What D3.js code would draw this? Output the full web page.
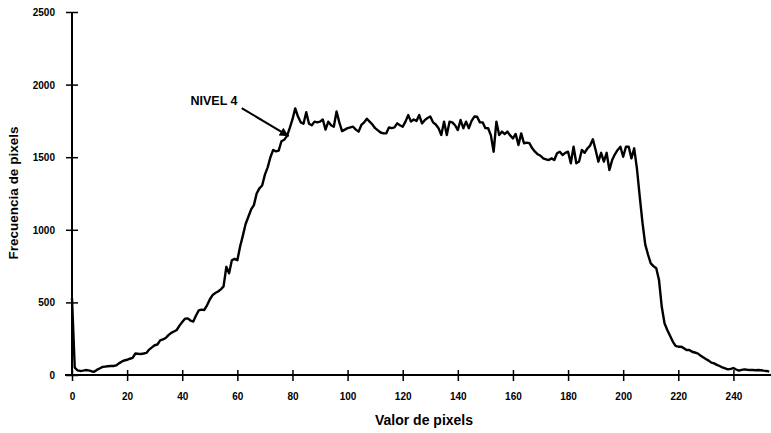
<!DOCTYPE html>
<html><head><meta charset="utf-8">
<script src="https://cdn.jsdelivr.net/npm/d3@7"></script>
<style>
html,body{margin:0;padding:0;background:#fff;}
svg{display:block;}
text{font-family:Arial,"Liberation Sans",sans-serif;font-weight:bold;fill:#000;}
</style></head><body>
<svg id="c" width="771" height="433"></svg>
<script>
// Pixel values 0..253 (x) and their frequencies (y)
const pixelValues = d3.range(0, 254);
const frequencies = [
 530,50,32,28,30,34,32,26,22,35,
 45,55,58,60,62,62,66,80,92,100,
 105,112,118,148,146,145,148,152,175,190,
 205,210,238,245,255,275,290,300,310,340,
 365,388,390,375,368,410,445,450,448,480,
 520,550,565,575,590,610,745,700,790,800,
 790,885,960,1040,1090,1140,1170,1250,1285,1305,
 1380,1430,1500,1550,1540,1545,1610,1620,1645,1700,
 1760,1836,1780,1740,1730,1810,1730,1720,1745,1740,
 1745,1760,1690,1745,1720,1710,1815,1740,1680,1690,
 1700,1705,1710,1690,1676,1722,1740,1765,1745,1725,
 1700,1685,1670,1664,1664,1705,1700,1705,1733,1720,
 1710,1745,1790,1745,1760,1750,1790,1733,1755,1770,
 1780,1740,1725,1700,1653,1745,1653,1745,1740,1720,
 1687,1756,1700,1745,1700,1750,1780,1779,1740,1740,
 1700,1699,1650,1538,1745,1653,1676,1660,1676,1650,
 1629,1660,1584,1664,1596,1600,1596,1561,1538,1520,
 1510,1492,1485,1481,1492,1481,1527,1538,1515,1530,
 1538,1458,1572,1458,1470,1550,1530,1560,1580,1623,
 1550,1469,1530,1470,1530,1412,1480,1520,1550,1572,
 1503,1572,1572,1492,1561,1420,1230,1050,900,830,
 769,750,735,654,470,356,310,270,230,200,
 195,195,185,172,172,160,155,149,135,122,
 110,99,85,80,70,62,52,46,39,42,
 48,38,30,35,39,36,34,34,33,34,
 33,30,28,23
];
const xTicks = [0,20,40,60,80,100,120,140,160,180,200,220,240];
const yTicks = [0,500,1000,1500,2000,2500];
const xTitle = "Valor de pixels";
const yTitle = "Frecuencia de pixels";
const annotationLabel = "NIVEL 4";
const annotationTarget = [79, 1645];
const annotationTextAt = [43, 1860];

const svg = d3.select("#c");
const x = d3.scaleLinear().domain([0, 254]).range([72, 772]);
const y = d3.scaleLinear().domain([0, 2500]).range([375, 12]);

// Y axis
const gy = svg.append("g").attr("transform", `translate(${x(0)},0)`)
  .call(d3.axisLeft(y).tickValues(yTicks).tickSize(6).tickFormat(d3.format("d")));
gy.select(".domain").attr("stroke", "#000").attr("stroke-width", 2).attr("d", `M0,${y(2500)}V${y(0)}`);
gy.selectAll(".tick line").attr("x1", -6).attr("x2", 6).attr("stroke", "#000").attr("stroke-width", 1.5);
gy.selectAll(".tick text").attr("x", -17).attr("dy", "0.35em").style("font-size", "10px").style("font-family", "Arial,'Liberation Sans',sans-serif").style("font-weight", "bold");

// X axis
const gx = svg.append("g").attr("transform", `translate(0,${y(0)})`)
  .call(d3.axisBottom(x).tickValues(xTicks).tickSize(6).tickFormat(d3.format("d")));
gx.select(".domain").attr("stroke", "#000").attr("stroke-width", 2).attr("d", `M${x(0)-7},0H771`);
gx.selectAll(".tick line").attr("y1", -5).attr("y2", 6).attr("stroke", "#000").attr("stroke-width", 1.5);
gx.selectAll(".tick text").attr("y", 18).style("font-size", "10px").style("font-family", "Arial,'Liberation Sans',sans-serif").style("font-weight", "bold");

// Curve
const data = pixelValues.map((v, i) => [v, frequencies[i]]);
svg.append("path").datum(data)
  .attr("fill", "none").attr("stroke", "#000").attr("stroke-width", 2.4)
  .attr("stroke-linejoin", "round")
  .attr("d", d3.line().x(d => x(d[0])).y(d => y(d[1])));

// Titles
svg.append("text").attr("x", 424).attr("y", 425).attr("text-anchor", "middle")
  .style("font-size", "14px").text(xTitle);
svg.append("text").attr("transform", `translate(18,${193}) rotate(-90)`).attr("text-anchor", "middle")
  .style("font-size", "13.5px").text(yTitle);

// Annotation
const defs = svg.append("defs");
defs.append("marker").attr("id", "ah").attr("viewBox", "0 0 10 10").attr("refX", 10).attr("refY", 5)
  .attr("markerWidth", 8).attr("markerHeight", 4.5).attr("markerUnits", "strokeWidth").attr("orient", "auto")
  .append("path").attr("d", "M0,0L10,5L0,10z").attr("fill", "#000");
svg.append("text").attr("x", x(annotationTextAt[0])).attr("y", y(annotationTextAt[1]))
  .style("font-size", "12.5px").text(annotationLabel);
svg.append("line")
  .attr("x1", x(annotationTarget[0]) - 48).attr("y1", y(annotationTarget[1]) - 28)
  .attr("x2", x(annotationTarget[0]) - 1).attr("y2", y(annotationTarget[1]))
  .attr("stroke", "#000").attr("stroke-width", 2).attr("marker-end", "url(#ah)");
</script>
</body></html>
